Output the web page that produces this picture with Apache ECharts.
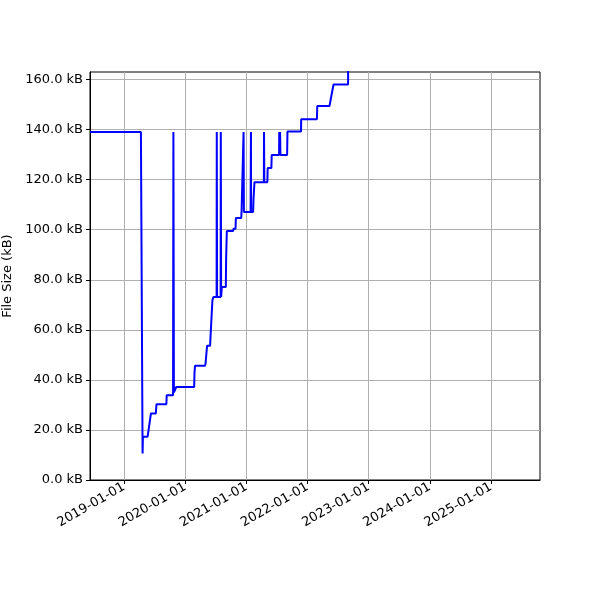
<!DOCTYPE html>
<html lang="en">
<head>
    <meta charset="UTF-8">
    <title>File Size</title>
    <style>
        * {
            margin: 0px;
            padding: 0px;
        }

        #main {
            width: 600px;
            height: 600px;
            background-color: #ffffff
        }
    </style>
</head>
<body>
<div id="main"></div>

<script src="https://cdn.jsdelivr.net/npm/echarts@6/dist/echarts.min.js"></script>
<script type="text/javascript">
    // commit dates and file size (kB)
    var dates = [
        '2018-06-12', '2019-04-12', '2019-04-22', '2019-04-24', '2019-05-22',
        '2019-06-11', '2019-07-10', '2019-07-14', '2019-09-11', '2019-09-13',
        '2019-10-21', '2019-10-23', '2019-10-26', '2019-11-02', '2019-11-09',
        '2020-02-24', '2020-02-26', '2020-02-29', '2020-04-29', '2020-05-02',
        '2020-05-09', '2020-05-11', '2020-05-29', '2020-06-04', '2020-06-12',
        '2020-06-18', '2020-07-07', '2020-07-08', '2020-07-10', '2020-07-31',
        '2020-08-01', '2020-08-03', '2020-08-07', '2020-08-31', '2020-09-02',
        '2020-09-06', '2020-10-14', '2020-10-16', '2020-10-28', '2020-10-30',
        '2020-12-01', '2020-12-03', '2020-12-13', '2020-12-15', '2020-12-17',
        '2021-01-26', '2021-01-28', '2021-01-29', '2021-02-10', '2021-02-12',
        '2021-02-18', '2021-04-15', '2021-04-16', '2021-04-18', '2021-05-06',
        '2021-05-08', '2021-05-30', '2021-06-01', '2021-07-15', '2021-07-16',
        '2021-07-18', '2021-07-21', '2021-07-23', '2021-09-01', '2021-09-03',
        '2021-11-23', '2021-11-24', '2022-02-26', '2022-02-28', '2022-05-12',
        '2022-06-05', '2022-08-31', '2022-09-01'
    ];
    var sizes = [
        139.0, 139.0, 10.6, 17.3, 17.3,
        26.6, 26.6, 30.3, 30.3, 33.9,
        33.9, 139.0, 35.0, 36.0, 37.2,
        37.2, 42.8, 45.6, 45.6, 46.6,
        46.6, 53.6, 53.6, 61.6, 71.8,
        73.1, 73.1, 139.0, 73.1, 73.1,
        139.0, 73.1, 77.1, 77.1, 89.1,
        99.5, 99.5, 100.4, 100.4, 104.7,
        104.7, 107.1, 107.1, 139.0, 107.1,
        107.1, 139.0, 107.1, 107.1, 111.7,
        119.0, 119.0, 139.0, 119.0, 119.0,
        124.6, 124.6, 129.8, 129.8, 139.0,
        129.8, 139.0, 129.8, 129.8, 139.2,
        139.2, 144.1, 144.1, 149.4, 149.4,
        158.0, 158.0, 175.0
    ];
    var yearTicks = ['2019-01-01', '2020-01-01', '2021-01-01', '2022-01-01',
        '2023-01-01', '2024-01-01', '2025-01-01'];
    var sizeTicks = [0, 20, 40, 60, 80, 100, 120, 140, 160];
    var xStart = '2018-06-12';
    var xEnd = '2025-10-20';

    function toTime(d) {
        return echarts.time.parse(d).getTime();
    }

    var points = [];
    for (var i = 0; i < dates.length; i++) {
        points.push([toTime(dates[i]), sizes[i]]);
    }
    var tickTimes = yearTicks.map(toTime);

    var myChart = echarts.init(document.getElementById('main'));
    myChart.setOption({
        animation: false,
        textStyle: {fontFamily: 'DejaVu Sans'},
        grid: {
            left: 90, right: 60, top: 72, bottom: 120,
            outerBoundsMode: 'none',
            containLabel: false,
            show: true, borderColor: '#000', borderWidth: 1
        },
        xAxis: {
            type: 'value',
            min: toTime(xStart),
            max: toTime(xEnd),
            axisLine: {lineStyle: {color: '#000', width: 1}},
            axisTick: {customValues: tickTimes, length: 4, lineStyle: {color: '#000'}},
            axisLabel: {
                customValues: tickTimes,
                rotate: 30,
                color: '#000',
                fontSize: 13,
                margin: 6,
                formatter: function (v) {
                    return echarts.time.format(v, '{yyyy}-{MM}-{dd}', false);
                }
            },
            splitLine: {show: true, lineStyle: {color: '#b0b0b0', width: 1}}
        },
        yAxis: {
            type: 'value',
            min: 0,
            max: 163,
            name: 'File Size (kB)',
            nameLocation: 'middle',
            nameGap: 76,
            nameTextStyle: {color: '#000', fontSize: 13},
            axisLine: {show: true, lineStyle: {color: '#000', width: 1}},
            axisTick: {show: true, customValues: sizeTicks, length: 4, lineStyle: {color: '#000'}},
            axisLabel: {
                customValues: sizeTicks,
                color: '#000',
                fontSize: 13,
                margin: 7,
                formatter: function (v) {
                    return v.toFixed(1) + ' kB';
                }
            },
            splitLine: {show: true, lineStyle: {color: '#b0b0b0', width: 1}}
        },
        series: [
            {
                type: 'line',
                data: points,
                showSymbol: false,
                clip: true,
                lineStyle: {color: '#0000ff', width: 2},
                itemStyle: {color: '#0000ff'}
            }
        ]
    });
</script>
</body>
</html>
